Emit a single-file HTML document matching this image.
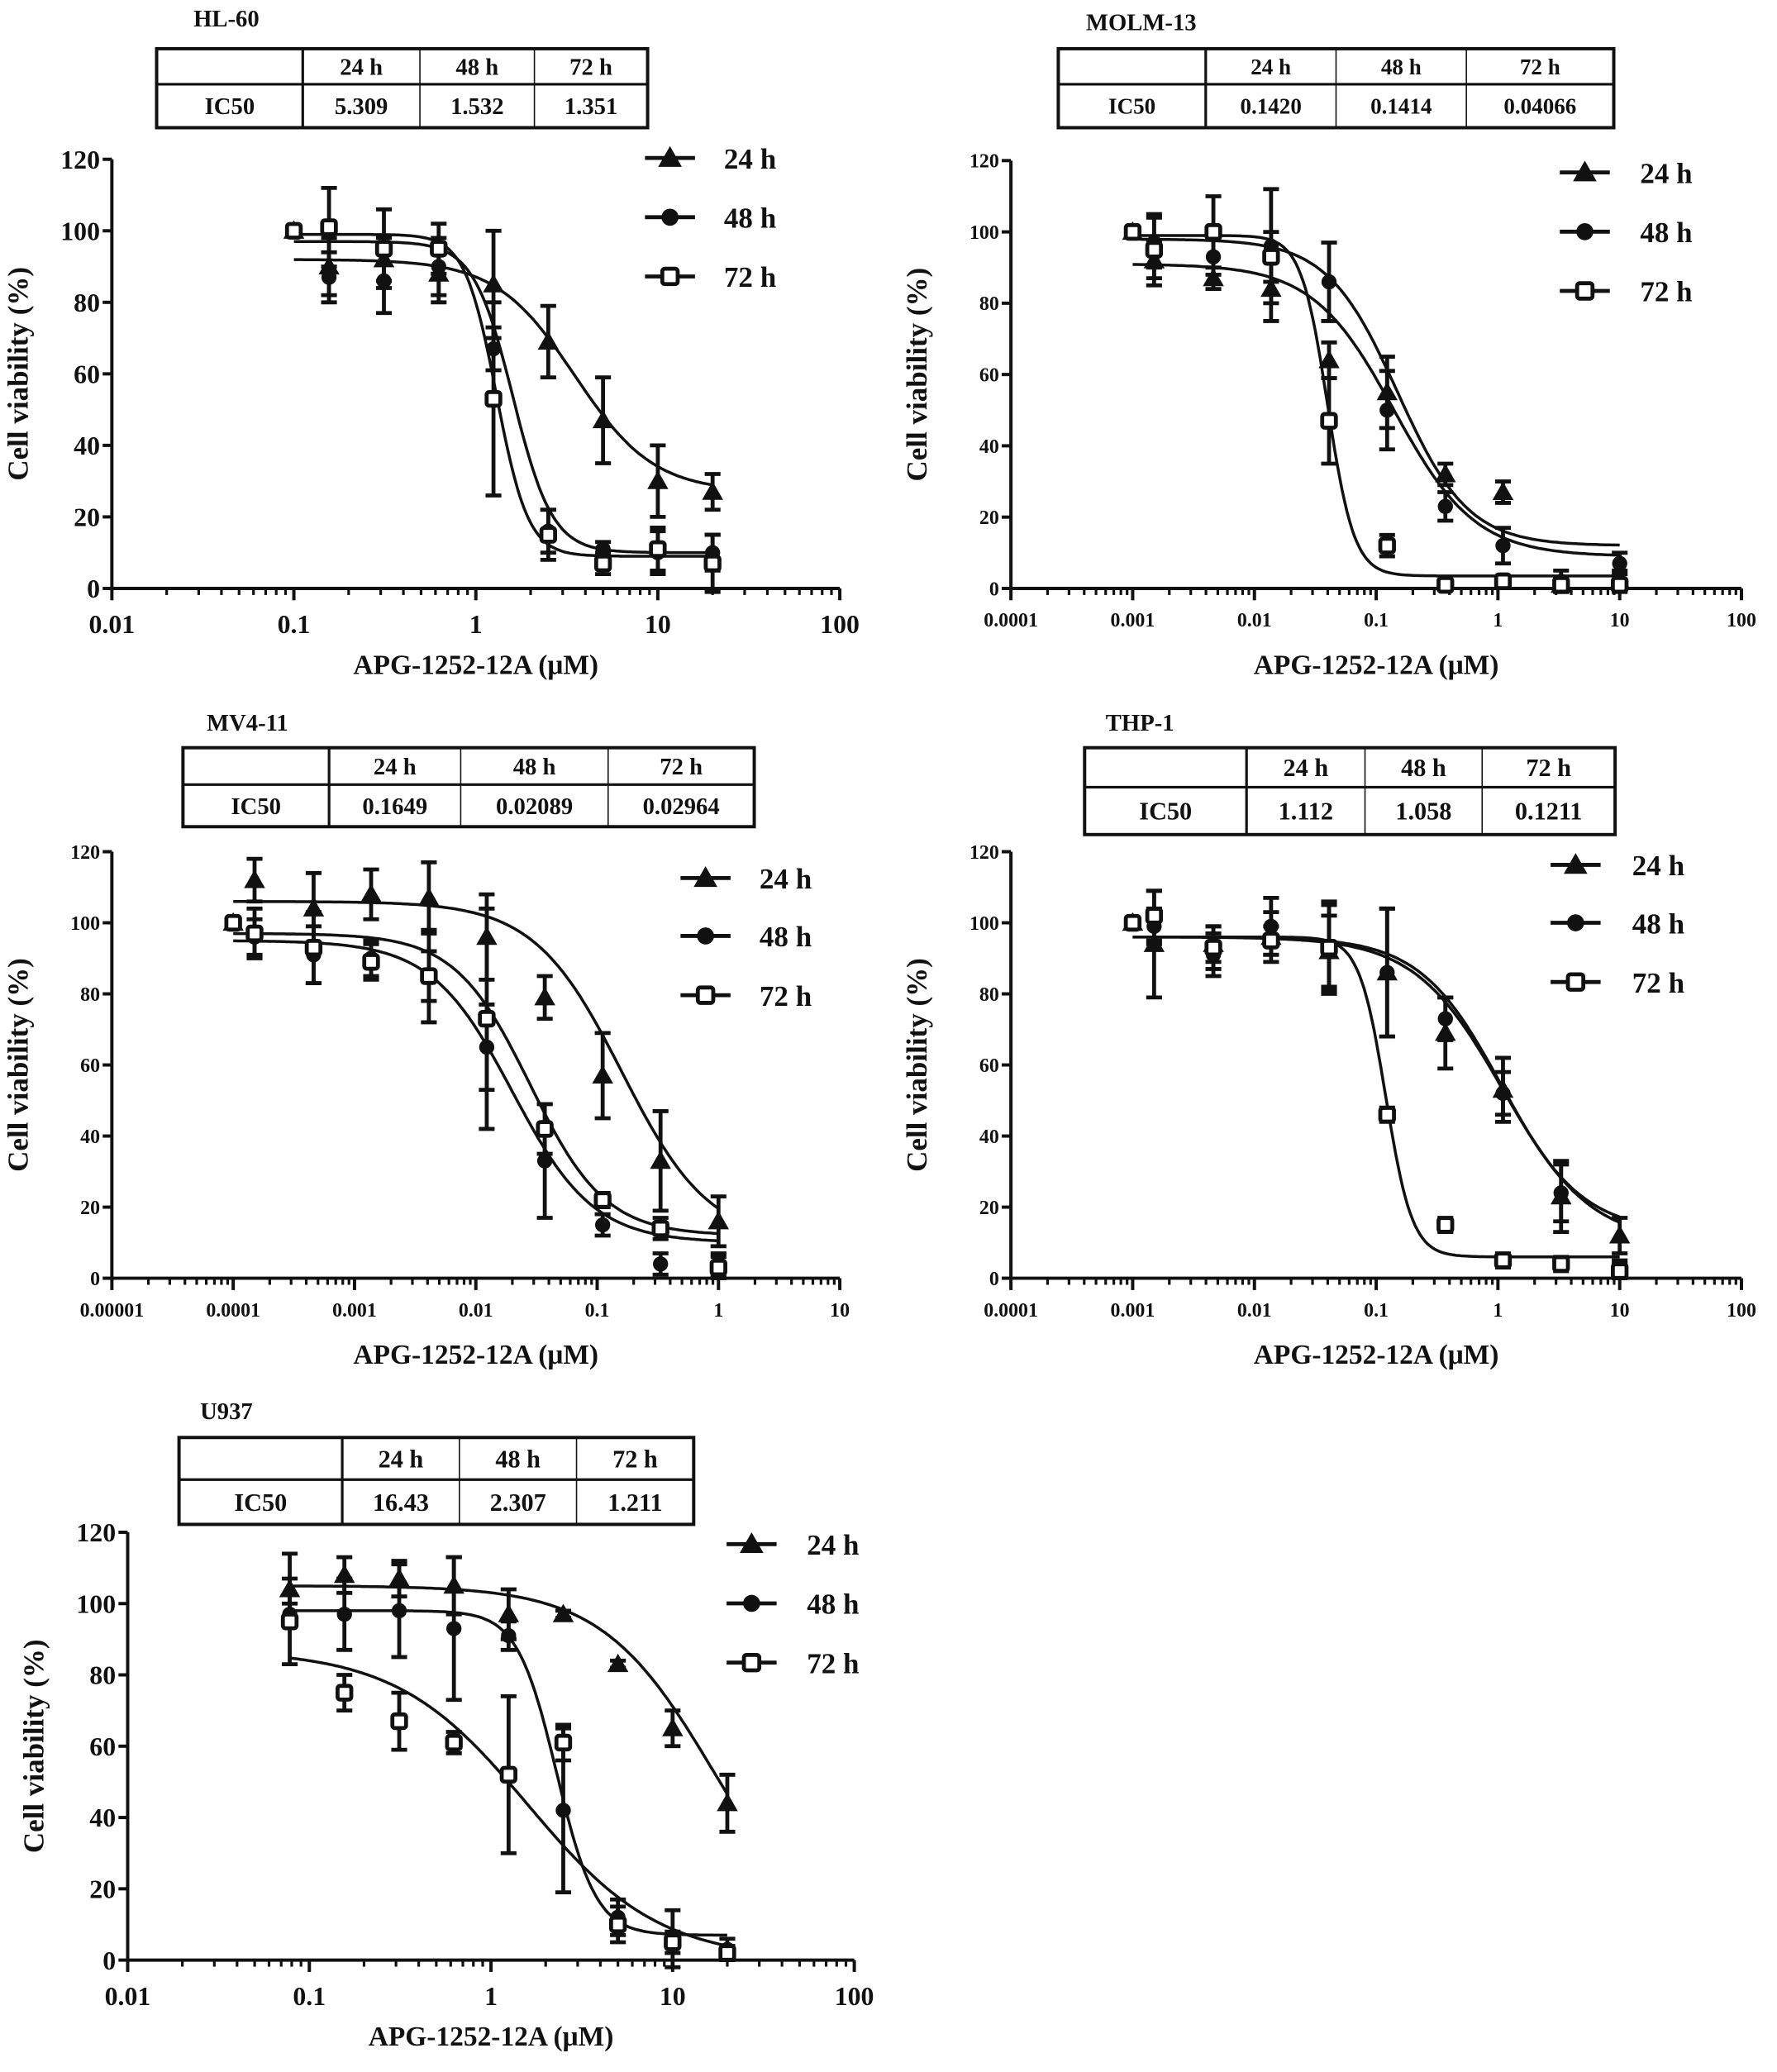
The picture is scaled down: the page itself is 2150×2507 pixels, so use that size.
<!DOCTYPE html>
<html><head><meta charset="utf-8"><style>
html,body{margin:0;padding:0;background:#fff;}
svg{display:block;}
text{font-family:"Liberation Serif",serif;font-weight:bold;fill:#111;}
</style></head><body>
<svg id="fig" width="2150" height="2507" viewBox="0 0 1350 1574" preserveAspectRatio="none" xmlns="http://www.w3.org/2000/svg"></svg>
<script>
// ---------- DATA ----------
const seriesNames = ["24 h","48 h","72 h"];
const yTicks = [0,20,40,60,80,100,120];

const hlX = [0.1,0.156,0.3125,0.625,1.25,2.5,5,10,20];
const hl24 = [100,90,92,88,85,69,47,30,27];
const hl24e = [0,8,6,8,15,10,12,10,5];
const hl48 = [100,87,86,90,67,16,11,10,10];
const hl48e = [0,7,9,8,6,6,2,6,5];
const hl72 = [100,101,95,95,53,15,7,11,7];
const hl72e = [0,11,11,7,27,7,3,6,8];
const hlFit = [[92,27,3.5,2.0],[97,10,1.6,4],[99,9,1.3,5]];
const hlIC50 = ["5.309","1.532","1.351"];
const hlTicks = ["0.01","0.1","1","10","100"];

const moX = [0.001,0.0015,0.0046,0.0137,0.041,0.123,0.37,1.1,3.3,10];
const mo24 = [100,92,87,84,64,55,32,27,1,2];
const mo24e = [0,5,3,9,5,10,3,3,2,3];
const mo48 = [100,97,93,96,86,50,23,12,2,7];
const mo48e = [0,7,5,16,11,11,4,5,3,3];
const mo72 = [100,95,100,93,47,12,1,2,1,1];
const mo72e = [0,10,10,7,12,3,1,1,1,1];
const moFit = [[91,9,0.14,1.3],[98,12,0.15,1.5],[99,3.5,0.04,4]];
const moIC50 = ["0.1420","0.1414","0.04066"];
const moTicks = ["0.0001","0.001","0.01","0.1","1","10","100"];

const mvX = [0.0001,0.00015,0.00046,0.00137,0.0041,0.0123,0.037,0.111,0.333,1];
const mv24 = [100,112,104,108,107,96,79,57,33,16];
const mv24e = [0,6,10,7,10,12,6,12,14,7];
const mv48 = [100,96,91,90,85,65,33,15,4,4];
const mv48e = [0,5,8,5,7,12,16,3,3,3];
const mv72 = [100,97,93,89,85,73,42,22,14,3];
const mv72e = [0,7,10,5,13,31,7,2,3,3];
const mvFit = [[106,10,0.16,1.2],[95,10,0.02,1.3],[97,12,0.028,1.4]];
const mvIC50 = ["0.1649","0.02089","0.02964"];
const mvTicks = ["0.00001","0.0001","0.001","0.01","0.1","1","10"];

const thX = [0.001,0.0015,0.0046,0.0137,0.041,0.123,0.37,1.1,3.3,10];
const th24 = [100,94,94,96,92,86,69,53,23,12];
const th24e = [0,15,5,7,10,18,10,9,10,5];
const th48 = [100,99,91,99,93,86,73,52,24,3];
const th48e = [0,5,6,8,12,18,6,6,8,2];
const th72 = [100,102,93,95,93,46,15,5,4,2];
const th72e = [0,7,6,4,13,2,2,2,2,2];
const thFit = [[96,10,1.1,1.2],[96,13,1.06,1.3],[96,6,0.12,4]];
const thIC50 = ["1.112","1.058","0.1211"];
const thTicks = ["0.0001","0.001","0.01","0.1","1","10","100"];

const uX = [0.078,0.156,0.3125,0.625,1.25,2.5,5,10,20];
const u24 = [104,108,107,105,97,97,83,65,44];
const u24e = [10,5,5,8,7,1,1,5,8];
const u48 = [97,97,98,93,91,42,12,6,3];
const u48e = [3,10,13,20,4,23,5,8,3];
const u72 = [95,75,67,61,52,61,10,5,2];
const u72e = [12,5,8,3,22,5,5,3,2];
const uFit = [[105,0,17,1.4],[98,7,2.3,4],[87,0,1.6,1.2]];
const uIC50 = ["16.43","2.307","1.211"];
const uTicks = ["0.01","0.1","1","10","100"];

// ---------- LAYOUT ----------
const NS="http://www.w3.org/2000/svg";
const svg=document.getElementById('fig');
function mk(tag,attrs,parent){const e=document.createElementNS(NS,tag);for(const k in attrs)e.setAttribute(k,attrs[k]);(parent||svg).appendChild(e);return e;}

const panels=[
 {id:"hl-60",title:"HL-60",tx:172,ty:12,ax:85,y0:447,y120:121,xMin:-2,xMax:2,xR:638,tick:20,tab:[119,37,492,97,64,[230,319,406]],tabF:18,leg:[509,[120,165,210],550],
  xs:hlX,ys:[hl24,hl48,hl72],es:[hl24e,hl48e,hl72e],fit:hlFit,ic:hlIC50,tl:hlTicks},
 {id:"molm-13",title:"MOLM-13",tx:867,ty:15,ax:768,y0:447,y120:122,xMin:-4,xMax:2,xR:1323,tick:15,tab:[804,37,1226,97,64,[916,1015,1114]],tabF:17,leg:[1204,[131,176,221],1246],
  xs:moX,ys:[mo24,mo48,mo72],es:[mo24e,mo48e,mo72e],fit:moFit,ic:moIC50,tl:moTicks},
 {id:"mv4-11",title:"MV4-11",tx:188,ty:547,ax:85,y0:971,y120:647,xMin:-5,xMax:1,xR:638,tick:15,tab:[139,568,573,628,596,[250,350,462]],tabF:18,leg:[536,[667,711,756],577],
  xs:mvX,ys:[mv24,mv48,mv72],es:[mv24e,mv48e,mv72e],fit:mvFit,ic:mvIC50,tl:mvTicks},
 {id:"thp-1",title:"THP-1",tx:866,ty:547,ax:768,y0:971,y120:647,xMin:-4,xMax:2,xR:1323,tick:15,tab:[824,568,1227,634,598,[947,1037,1126]],tabF:19,leg:[1197,[657,701,746],1240],
  xs:thX,ys:[th24,th48,th72],es:[th24e,th48e,th72e],fit:thFit,ic:thIC50,tl:thTicks},
 {id:"u937",title:"U937",tx:172,ty:1070,ax:97,y0:1489,y120:1164,xMin:-2,xMax:2,xR:649,tick:20,tab:[136,1092,527,1158,1124,[260,349,438]],tabF:19,leg:[571,[1173,1218,1263],613],
  xs:uX,ys:[u24,u48,u72],es:[u24e,u48e,u72e],fit:uFit,ic:uIC50,tl:uTicks}
];

function marker(g,k,x,y,s){
  if(k===0){const m=mk('polygon',{points:`${x},${y-s} ${x-s},${y+s*0.75} ${x+s},${y+s*0.75}`,fill:'#111'},g);}
  else if(k===1){const m=mk('circle',{cx:x,cy:y,r:s*0.72,fill:'#111'},g);}
  else{const m=mk('rect',{x:x-s*0.65,y:y-s*0.65,width:s*1.3,height:s*1.3,rx:2,fill:'#fff',stroke:'#111','stroke-width':3},g);}
}

panels.forEach(p=>{
  const g=mk('g',{});
  
  
  const sx=v=>p.ax+(Math.log10(v)-p.xMin)/(p.xMax-p.xMin)*(p.xR-p.ax);
  const sy=v=>p.y0-v/120*(p.y0-p.y120);
  const t=mk('text',{x:p.tx,y:p.ty+8,'font-size':18,'text-anchor':'middle'},g);t.textContent=p.title;
  
  const [l,tp,r,b,mid,cols]=p.tab;
  const tb=mk('g',{},g);
  mk('rect',{x:l,y:tp,width:r-l,height:b-tp,fill:'none',stroke:'#111','stroke-width':2.5},tb);
  mk('line',{x1:l,y1:mid,x2:r,y2:mid,stroke:'#111','stroke-width':2},tb);
  mk('line',{x1:cols[0],y1:tp,x2:cols[0],y2:b,stroke:'#111','stroke-width':2},tb);
  mk('line',{x1:cols[1],y1:tp,x2:cols[1],y2:b,stroke:'#111','stroke-width':1},tb);
  mk('line',{x1:cols[2],y1:tp,x2:cols[2],y2:b,stroke:'#111','stroke-width':1},tb);
  const cx=[(cols[0]+cols[1])/2,(cols[1]+cols[2])/2,(cols[2]+r)/2];
  const hy=(tp+mid)/2+p.tabF*0.35, vy=(mid+b)/2+p.tabF*0.35;
  const ic=mk('text',{x:(l+cols[0])/2,y:vy,'font-size':p.tabF,'text-anchor':'middle'},tb);ic.textContent="IC50";
  for(let i=0;i<3;i++){
    const h=mk('text',{x:cx[i],y:hy,'font-size':p.tabF,'text-anchor':'middle'},tb);h.textContent=seriesNames[i];
    const v=mk('text',{x:cx[i],y:vy,'font-size':p.tabF,'text-anchor':'middle'},tb);v.textContent=p.ic[i];
  }
  const ax=mk('g',{stroke:'#111','stroke-width':2.5},g);
  mk('line',{x1:p.ax,y1:p.y120,x2:p.ax,y2:p.y0},ax);
  mk('line',{x1:p.ax,y1:p.y0,x2:p.xR,y2:p.y0},ax);
  yTicks.forEach(v=>{
    mk('line',{x1:p.ax-7,y1:sy(v),x2:p.ax,y2:sy(v)},ax);
    const tt=mk('text',{x:p.ax-9,y:sy(v)+p.tick*0.35,'font-size':p.tick,'text-anchor':'end',stroke:'none'},g);tt.textContent=v;
    
  });
  for(let d=p.xMin;d<=p.xMax;d++){
    const X=sx(Math.pow(10,d));
    mk('line',{x1:X,y1:p.y0,x2:X,y2:p.y0+9},ax);
    const tt=mk('text',{x:X,y:p.y0+p.tick+14,'font-size':p.tick,'text-anchor':'middle',stroke:'none'},g);tt.textContent=p.tl[d-p.xMin];
    
    if(d<p.xMax)for(let m=2;m<10;m++){const mx=sx(m*Math.pow(10,d));mk('line',{x1:mx,y1:p.y0,x2:mx,y2:p.y0+5,'stroke-width':2},ax);}
  }
  const xt=mk('text',{x:(p.ax+p.xR)/2,y:p.y0+65,'font-size':21,'text-anchor':'middle'},g);xt.textContent="APG-1252-12A (μM)";
  
  const yc=(p.y0+p.y120)/2;
  const yx=p.ax-64;
  const yt=mk('text',{x:yx,y:yc,'font-size':22,'text-anchor':'middle',transform:`rotate(-90 ${yx} ${yc})`},g);yt.textContent="Cell viability (%)";
  
  for(let k=0;k<3;k++){
    const [top,bot,ec,h]=p.fit[k];
    const a=Math.log10(p.xs[0]),bb=Math.log10(p.xs[p.xs.length-1]);
    let d="";
    for(let i=0;i<=200;i++){const lx=a+(bb-a)*i/200;const x=Math.pow(10,lx);const y=bot+(top-bot)/(1+Math.pow(x/ec,h));d+=(i?"L":"M")+sx(x).toFixed(1)+","+sy(y).toFixed(1);}
    const c=mk('path',{d:d,fill:'none',stroke:'#111','stroke-width':2.2},g);
    
  }
  for(let k=0;k<3;k++){
    const sg=mk('g',{},g);
    p.xs.forEach((x,i)=>{
      const X=sx(x),v=p.ys[k][i],e=p.es[k][i];
      if(e>0){
        mk('line',{x1:X,y1:sy(v-e),x2:X,y2:sy(v+e),stroke:'#111','stroke-width':3},sg);
        mk('line',{x1:X-6,y1:sy(v-e),x2:X+6,y2:sy(v-e),stroke:'#111','stroke-width':3},sg);
        mk('line',{x1:X-6,y1:sy(v+e),x2:X+6,y2:sy(v+e),stroke:'#111','stroke-width':3},sg);
      }
      marker(sg,k,X,sy(v),8);
    });
  }
  const [lx,lys,ltx]=p.leg;
  for(let k=0;k<3;k++){
    const lg=mk('g',{},g);
    mk('line',{x1:lx-19,y1:lys[k],x2:lx+19,y2:lys[k],stroke:'#111','stroke-width':3},lg);
    marker(lg,k,lx,lys[k],9);
    const tt=mk('text',{x:ltx,y:lys[k]+8,'font-size':22},lg);tt.textContent=seriesNames[k].replace(' ','\u00a0');
  }
});
</script>
</body></html>
